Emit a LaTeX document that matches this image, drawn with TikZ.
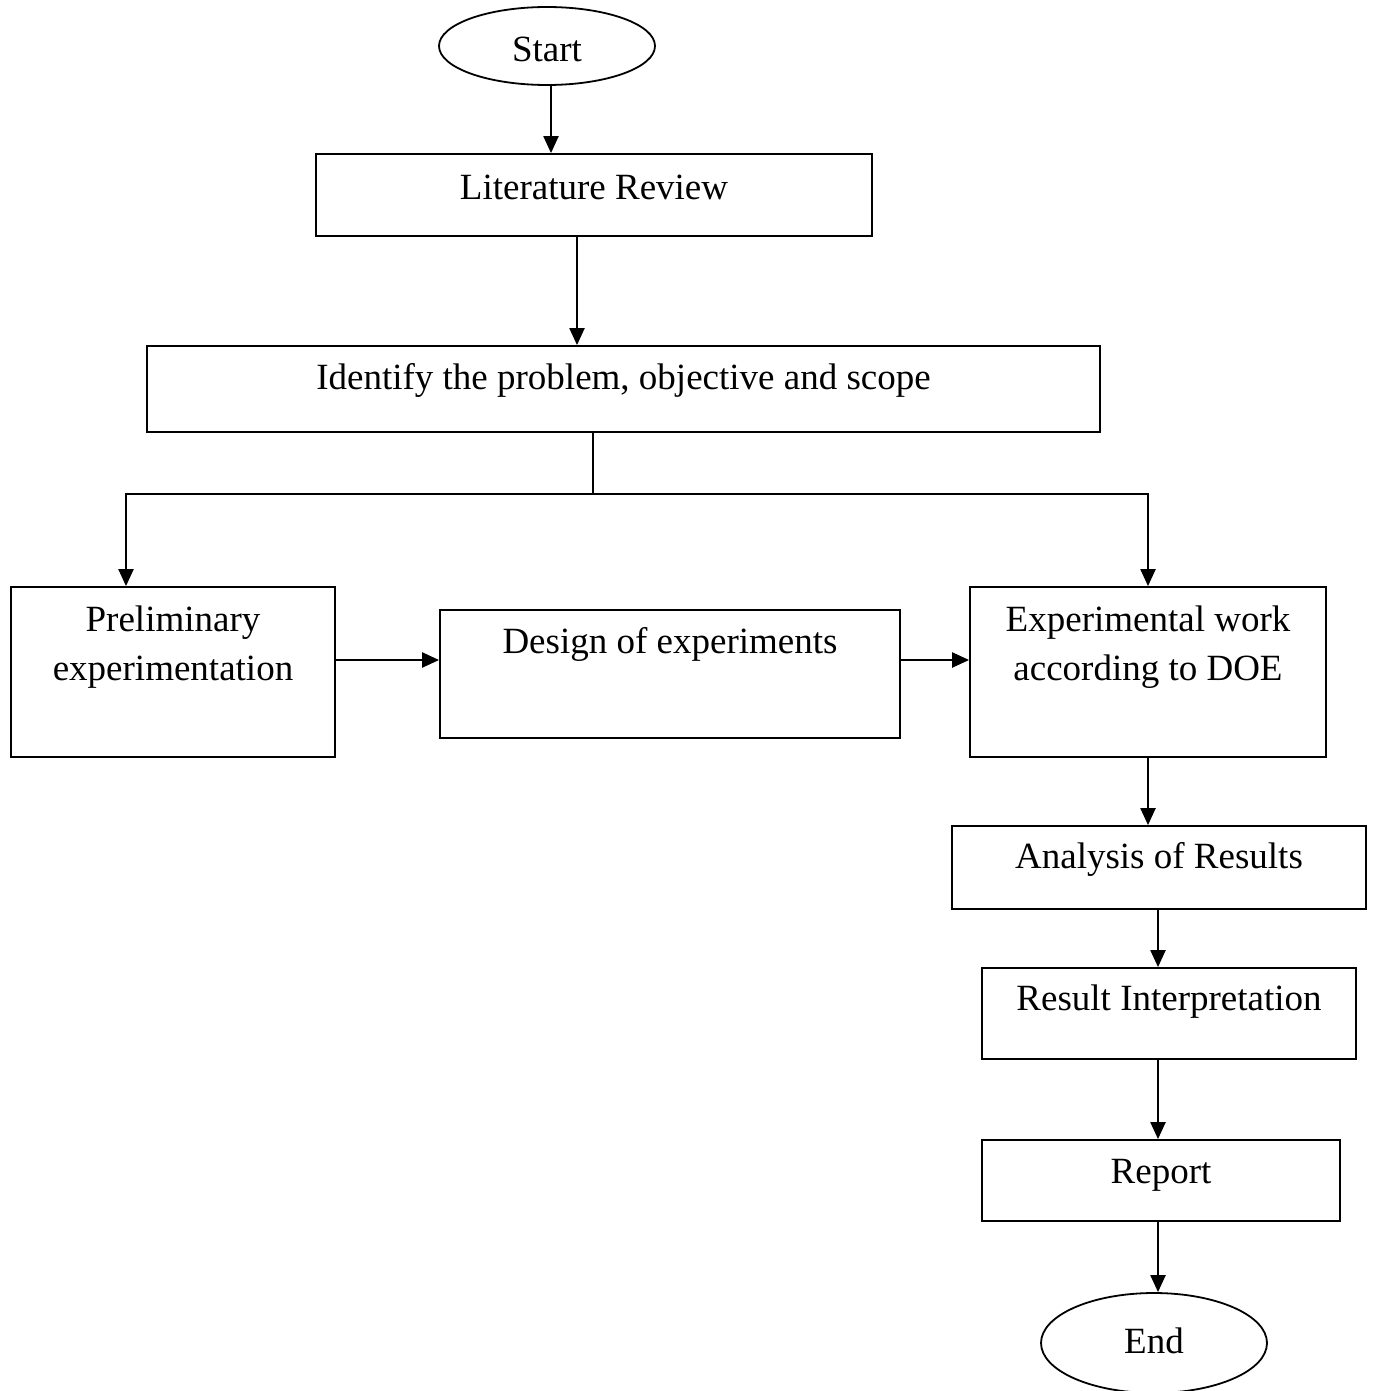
\documentclass[tikz,border=0pt]{standalone}
\usepackage{fontspec}
\setmainfont{Liberation Serif}
\usetikzlibrary{shapes.geometric,arrows.meta}
\begin{document}
\begin{tikzpicture}[x=1pt,y=-1pt,
  box/.style={draw,line width=1.8pt,rectangle,inner sep=0pt},
  oval/.style={draw,line width=1.8pt,ellipse,inner sep=0pt},
  txt/.style={font=\fontsize{37}{49}\selectfont,align=center,inner sep=0pt},
  conn/.style={line width=2.2pt},
  arr/.style={conn,-{Triangle[length=17pt,width=15pt]}}]
\useasboundingbox (0,0) rectangle (1374,1391);
% nodes
\node[oval,minimum width=216pt,minimum height=78pt] (start) at (547,46) {};
\node[txt] at (547,49) {Start};
\node[box,minimum width=556pt,minimum height=82pt] (lit) at (594,195) {};
\node[txt] at (594,187) {Literature Review};
\node[box,minimum width=953pt,minimum height=86pt] (ident) at (623.5,389) {};
\node[txt] at (623.5,380) {Identify the problem, objective and scope};
\node[box,minimum width=324pt,minimum height=170pt] (prelim) at (173,672) {};
\node[txt] at (173,647) {Preliminary\\experimentation};
\node[box,minimum width=460pt,minimum height=128pt] (doe) at (670,674) {};
\node[txt] at (670,644) {Design of experiments};
\node[box,minimum width=356pt,minimum height=170pt] (exp) at (1148,672) {};
\node[txt] at (1148,647) {Experimental work\\according to DOE};
\node[box,minimum width=414pt,minimum height=83pt] (anal) at (1159,867.5) {};
\node[txt] at (1159,859) {Analysis of Results};
\node[box,minimum width=374pt,minimum height=91pt] (interp) at (1169,1013.5) {};
\node[txt] at (1169,1002) {Result Interpretation};
\node[box,minimum width=358pt,minimum height=81pt] (report) at (1161,1180.5) {};
\node[txt] at (1161,1175) {Report};
\node[oval,minimum width=226pt,minimum height=100pt] (end) at (1154,1343) {};
\node[txt] at (1154,1341) {End};
% connectors
\coordinate (split) at (593,494);
\draw[arr] (start.south -| 551,0) -- (lit.north -| 551,0);
\draw[arr] (lit.south -| 577,0) -- (ident.north -| 577,0);
\draw[conn] (ident.south -| split) -- (split);
\draw[arr] (split) -| (prelim.north -| 126,0);
\draw[arr] (split) -| (exp.north);
\draw[arr] (prelim.east |- 0,660) -- (doe.west |- 0,660);
\draw[arr] (doe.east |- 0,660) -- (exp.west |- 0,660);
\draw[arr] (exp.south) -- (anal.north -| exp.south);
\draw[arr] (anal.south -| 1158,0) -- (interp.north -| 1158,0);
\draw[arr] (interp.south -| 1158,0) -- (report.north -| 1158,0);
\draw[arr] (report.south -| 1158,0) -- (end.north -| 1158,0);
\end{tikzpicture}
\end{document}
